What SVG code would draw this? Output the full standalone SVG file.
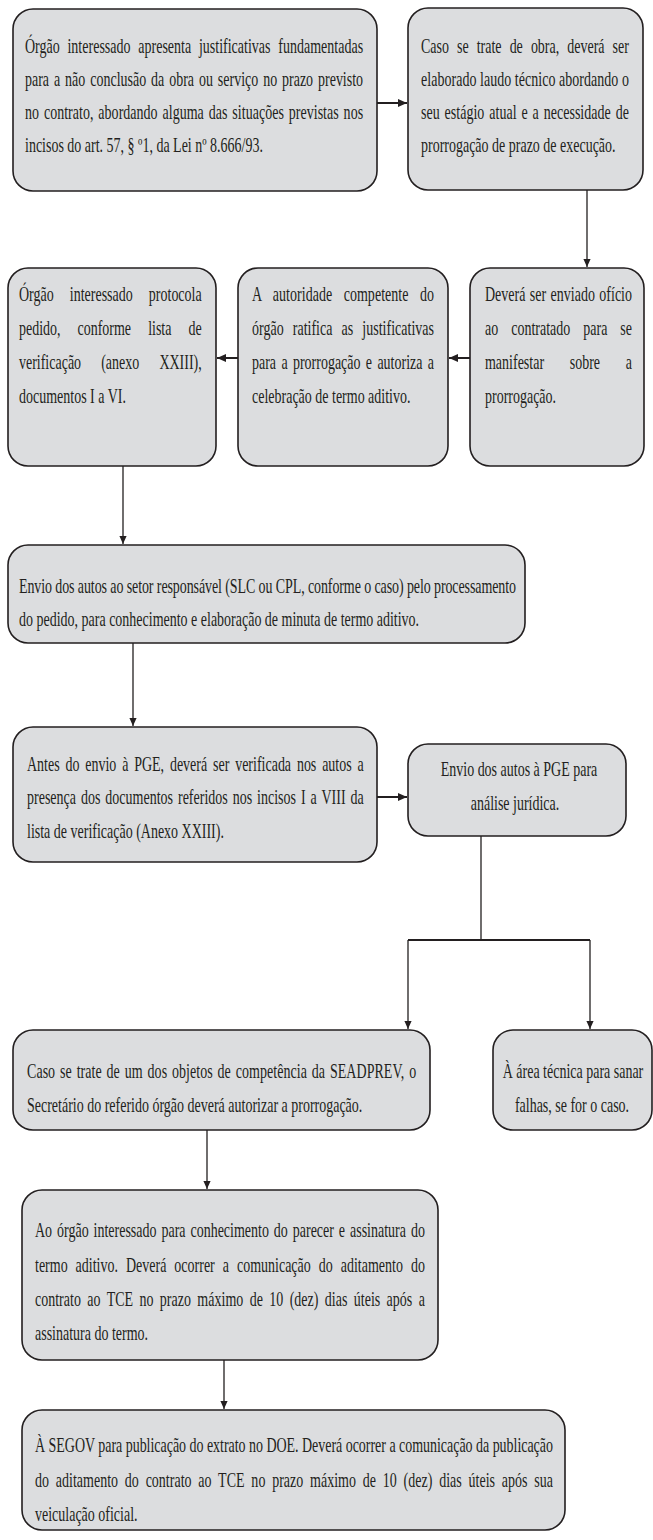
<svg xmlns="http://www.w3.org/2000/svg" width="653" height="1540" viewBox="0 0 653 1540">
  <style>
    .box { fill: #dcdddf; stroke: #231f20; stroke-width: 1.6; }
    .t { font-family: "Liberation Serif", "DejaVu Serif", serif; font-size: 20px; fill: #231f20; }
    .c { text-anchor: middle; }
    .wire { fill: none; stroke: #231f20; stroke-width: 1.3; }
    .wire-h { fill: none; stroke: #231f20; stroke-width: 2; }
  </style>
  <defs>
    <marker id="arrow" viewBox="0 0 10 10" refX="10" refY="5" markerWidth="8" markerHeight="10" markerUnits="userSpaceOnUse" orient="auto">
      <path d="M0,0.5 L10,5 L0,9.5 Z" fill="#231f20"/>
    </marker>
    <marker id="arrow-h" viewBox="0 0 10 10" refX="10" refY="5" markerWidth="9" markerHeight="10" markerUnits="userSpaceOnUse" orient="auto">
      <path d="M0,0.5 L10,5 L0,9.5 Z" fill="#231f20"/>
    </marker>
  </defs>

  <!-- connectors -->
  <g id="connectors">
    <path class="wire-h" d="M377,103 H407" marker-end="url(#arrow-h)"/>
    <path class="wire" d="M587,190 V267" marker-end="url(#arrow)"/>
    <path class="wire-h" d="M470,358 H449" marker-end="url(#arrow-h)"/>
    <path class="wire-h" d="M238,358 H217" marker-end="url(#arrow-h)"/>
    <path class="wire" d="M123,466 V544" marker-end="url(#arrow)"/>
    <path class="wire" d="M133,643 V726" marker-end="url(#arrow)"/>
    <path class="wire-h" d="M377,797 H407" marker-end="url(#arrow-h)"/>
    <path class="wire" d="M481,836 V940"/>
    <path class="wire-h" d="M408,940 H590"/>
    <path class="wire" d="M408,940 V1029" marker-end="url(#arrow)"/>
    <path class="wire" d="M590,940 V1029" marker-end="url(#arrow)"/>
    <path class="wire" d="M207,1130 V1189" marker-end="url(#arrow)"/>
    <path class="wire" d="M224,1360 V1409" marker-end="url(#arrow)"/>
  </g>

  <!-- justificativas (text set condensed: scaleX 0.7, justified lines via textLength) -->
  <g id="n-justificativas">
    <rect class="box" x="13" y="9" width="364" height="182" rx="20"/>
    <text class="t" transform="translate(25,53) scale(0.7,1)" textLength="483" lengthAdjust="spacing" word-spacing="6">Órgão interessado apresenta justificativas fundamentadas</text>
    <text class="t" transform="translate(25,86) scale(0.7,1)" textLength="483" lengthAdjust="spacing" word-spacing="2">para a não conclusão da obra ou serviço no prazo previsto</text>
    <text class="t" transform="translate(25,119) scale(0.7,1)" textLength="483" lengthAdjust="spacing" word-spacing="2">no contrato, abordando alguma das situações previstas nos</text>
    <text class="t" transform="translate(25,152) scale(0.7,1)">incisos do art. 57, § º1, da Lei nº 8.666/93.</text>
  </g>

  <!-- laudo técnico -->
  <g id="n-laudo">
    <rect class="box" x="408" y="8" width="235" height="182" rx="20"/>
    <text class="t" transform="translate(421,53) scale(0.7,1)" textLength="297" lengthAdjust="spacing" word-spacing="6.5">Caso se trate de obra, deverá ser</text>
    <text class="t" transform="translate(421,86) scale(0.7,1)" textLength="297" lengthAdjust="spacing">elaborado laudo técnico abordando o</text>
    <text class="t" transform="translate(421,119) scale(0.7,1)" textLength="297" lengthAdjust="spacing" word-spacing="2">seu estágio atual e a necessidade de</text>
    <text class="t" transform="translate(421,152) scale(0.7,1)">prorrogação de prazo de execução.</text>
  </g>

  <!-- ofício ao contratado -->
  <g id="n-oficio">
    <rect class="box" x="470" y="268" width="174" height="198" rx="20"/>
    <text class="t" transform="translate(485,301) scale(0.7,1)" textLength="210" lengthAdjust="spacing" word-spacing="1.3">Deverá ser enviado ofício</text>
    <text class="t" transform="translate(485,335) scale(0.7,1)" textLength="210" lengthAdjust="spacing" word-spacing="13.5">ao contratado para se</text>
    <text class="t" transform="translate(485,369) scale(0.7,1)" textLength="210" lengthAdjust="spacing" word-spacing="31.7">manifestar sobre a</text>
    <text class="t" transform="translate(485,403) scale(0.7,1)">prorrogação.</text>
  </g>

  <!-- ratificação -->
  <g id="n-ratifica">
    <rect class="box" x="238" y="268" width="210" height="198" rx="20"/>
    <text class="t" transform="translate(252,301) scale(0.7,1)" textLength="260" lengthAdjust="spacing" word-spacing="11.3">A autoridade competente do</text>
    <text class="t" transform="translate(252,335) scale(0.7,1)" textLength="260" lengthAdjust="spacing" word-spacing="8">órgão ratifica as justificativas</text>
    <text class="t" transform="translate(252,369) scale(0.7,1)" textLength="260" lengthAdjust="spacing" word-spacing="2.6">para a prorrogação e autoriza a</text>
    <text class="t" transform="translate(252,403) scale(0.7,1)">celebração de termo aditivo.</text>
  </g>

  <!-- protocolo -->
  <g id="n-protocolo">
    <rect class="box" x="8" y="268" width="208" height="198" rx="20"/>
    <text class="t" transform="translate(19,301) scale(0.7,1)" textLength="261" lengthAdjust="spacing" word-spacing="18">Órgão interessado protocola</text>
    <text class="t" transform="translate(19,335) scale(0.7,1)" textLength="261" lengthAdjust="spacing" word-spacing="19.4">pedido, conforme lista de</text>
    <text class="t" transform="translate(19,369) scale(0.7,1)" textLength="261" lengthAdjust="spacing" word-spacing="23.8">verificação (anexo XXIII),</text>
    <text class="t" transform="translate(19,403) scale(0.7,1)">documentos I a VI.</text>
  </g>

  <!-- setor responsável -->
  <g id="n-setor">
    <rect class="box" x="8" y="545" width="517" height="98" rx="20"/>
    <text class="t" transform="translate(19,593) scale(0.7,1)" textLength="710" lengthAdjust="spacing">Envio dos autos ao setor responsável (SLC ou CPL, conforme o caso) pelo processamento</text>
    <text class="t" transform="translate(19,626) scale(0.7,1)">do pedido, para conhecimento e elaboração de minuta de termo aditivo.</text>
  </g>

  <!-- verificação -->
  <g id="n-verificacao">
    <rect class="box" x="13" y="727" width="364" height="135" rx="20"/>
    <text class="t" transform="translate(27,771) scale(0.7,1)" textLength="481" lengthAdjust="spacing" word-spacing="3.3">Antes do envio à PGE, deverá ser verificada nos autos a</text>
    <text class="t" transform="translate(27,804) scale(0.7,1)" textLength="481" lengthAdjust="spacing" word-spacing="2">presença dos documentos referidos nos incisos I a VIII da</text>
    <text class="t" transform="translate(27,838) scale(0.7,1)">lista de verificação (Anexo XXIII).</text>
  </g>

  <!-- PGE -->
  <g id="n-pge">
    <rect class="box" x="408" y="744" width="218" height="92" rx="20"/>
    <text class="t c" transform="translate(519,776) scale(0.7,1)">Envio dos autos à PGE para</text>
    <text class="t c" transform="translate(515,810) scale(0.7,1)">análise jurídica.</text>
  </g>

  <!-- SEADPREV -->
  <g id="n-seadprev">
    <rect class="box" x="13" y="1030" width="417" height="100" rx="20"/>
    <text class="t" transform="translate(27,1078) scale(0.7,1)" textLength="556" lengthAdjust="spacing" word-spacing="1.9">Caso se trate de um dos objetos de competência da SEADPREV, o</text>
    <text class="t" transform="translate(27,1112) scale(0.7,1)">Secretário do referido órgão deverá autorizar a prorrogação.</text>
  </g>

  <!-- área técnica -->
  <g id="n-area-tecnica">
    <rect class="box" x="493" y="1030" width="159" height="100" rx="20"/>
    <text class="t c" transform="translate(573,1078) scale(0.7,1)">À área técnica para sanar</text>
    <text class="t c" transform="translate(572,1112) scale(0.7,1)">falhas, se for o caso.</text>
  </g>

  <!-- assinatura do termo -->
  <g id="n-assinatura">
    <rect class="box" x="22" y="1190" width="416" height="170" rx="20"/>
    <text class="t" transform="translate(35,1237) scale(0.7,1)" textLength="557" lengthAdjust="spacing" word-spacing="2">Ao órgão interessado para conhecimento do parecer e assinatura do</text>
    <text class="t" transform="translate(35,1272) scale(0.7,1)" textLength="557" lengthAdjust="spacing" word-spacing="6.4">termo aditivo. Deverá ocorrer a comunicação do aditamento do</text>
    <text class="t" transform="translate(35,1306) scale(0.7,1)" textLength="557" lengthAdjust="spacing" word-spacing="4.1">contrato ao TCE no prazo máximo de 10 (dez) dias úteis após a</text>
    <text class="t" transform="translate(35,1340) scale(0.7,1)">assinatura do termo.</text>
  </g>

  <!-- publicação -->
  <g id="n-publicacao">
    <rect class="box" x="22" y="1410" width="543" height="120" rx="20"/>
    <text class="t" transform="translate(35,1452) scale(0.7,1)" textLength="740" lengthAdjust="spacing">À SEGOV para publicação do extrato no DOE. Deverá ocorrer a comunicação da publicação</text>
    <text class="t" transform="translate(35,1487) scale(0.7,1)" textLength="740" lengthAdjust="spacing" word-spacing="4.7">do aditamento do contrato ao TCE no prazo máximo de 10 (dez) dias úteis após sua</text>
    <text class="t" transform="translate(35,1521) scale(0.7,1)">veiculação oficial.</text>
  </g>
</svg>
